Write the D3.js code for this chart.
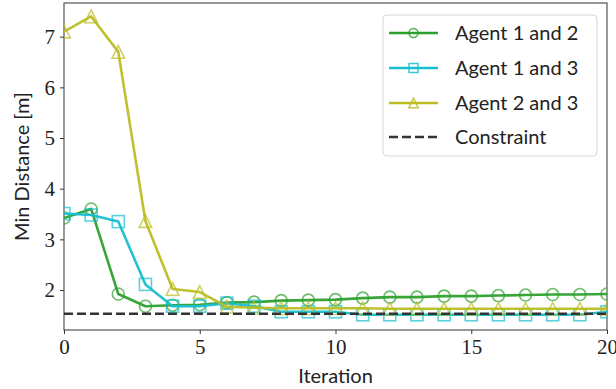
<!DOCTYPE html>
<html>
<head>
<meta charset="utf-8">
<script src="https://cdn.jsdelivr.net/npm/d3@7"></script>
<style>
  html, body { margin: 0; padding: 0; background: #fff; }
  svg { display: block; }
</style>
</head>
<body>
<svg id="chart" width="616" height="389"></svg>
<script>
// Minimum pairwise distance between agents per iteration
const iterations = d3.range(0, 21);
const agent12 = [3.42, 3.60, 1.92, 1.68, 1.70, 1.71, 1.75, 1.76, 1.79, 1.80, 1.81,
                 1.84, 1.86, 1.86, 1.88, 1.88, 1.89, 1.90, 1.91, 1.91, 1.92];
const agent13 = [3.51, 3.48, 3.35, 2.11, 1.68, 1.68, 1.74, 1.68, 1.57, 1.57, 1.57,
                 1.51, 1.51, 1.51, 1.51, 1.51, 1.51, 1.51, 1.51, 1.51, 1.57];
const agent23 = [7.10, 7.40, 6.70, 3.36, 2.02, 1.96, 1.67, 1.65, 1.64, 1.64, 1.64,
                 1.64, 1.63, 1.63, 1.63, 1.63, 1.63, 1.63, 1.63, 1.63, 1.63];
const constraint = 1.53;
const xTicks = [0, 5, 10, 15, 20];
const yTicks = [2, 3, 4, 5, 6, 7];

const seriesList = [
  { name: "Agent 1 and 2", values: agent12, color: "#2ca02c", marker: "circle" },
  { name: "Agent 1 and 3", values: agent13, color: "#17becf", marker: "square" },
  { name: "Agent 2 and 3", values: agent23, color: "#bcbd22", marker: "triangle" }
];

const svg = d3.select("#chart");
const plotLeft = 64, plotRight = 607, plotTop = 3, plotBottom = 330;

const x = d3.scaleLinear().domain([0, 20]).range([plotLeft, plotRight]);
const y = d3.scaleLinear().domain([1.2104, 7.665]).range([plotBottom, plotTop]);

const serif = "'Liberation Serif', 'DejaVu Serif', serif";
const sans = "Lato, 'Open Sans', 'DejaVu Sans', sans-serif";

svg.append("defs").append("clipPath").attr("id", "plot-clip")
  .append("rect").attr("x", plotLeft).attr("y", plotTop)
  .attr("width", plotRight - plotLeft).attr("height", plotBottom - plotTop);

// Axes
const xAxis = svg.append("g").attr("transform", `translate(0,${plotBottom})`)
  .call(d3.axisBottom(x).tickValues(xTicks).tickSize(4).tickPadding(5).tickFormat(d3.format("d")));
const yAxis = svg.append("g").attr("transform", `translate(${plotLeft},0)`)
  .call(d3.axisLeft(y).tickValues(yTicks).tickSize(4).tickPadding(5).tickFormat(d3.format("d")));

[xAxis, yAxis].forEach(g => {
  g.select(".domain").remove();
  g.selectAll(".tick line").attr("stroke", "#333").attr("stroke-width", 1);
  g.selectAll(".tick text").attr("font-family", serif).attr("font-size", 21).attr("fill", "#222");
});

// Frame
svg.append("rect").attr("x", plotLeft).attr("y", plotTop)
  .attr("width", plotRight - plotLeft).attr("height", plotBottom - plotTop)
  .attr("fill", "none").attr("stroke", "#444").attr("stroke-width", 1.1);

// Axis labels
svg.append("text").attr("x", (plotLeft + plotRight) / 2).attr("y", 383)
  .attr("text-anchor", "middle").attr("font-family", sans).attr("font-size", 20)
  .attr("fill", "#222").text("Iteration");
svg.append("text").attr("transform", `translate(29,${(plotTop + plotBottom) / 2}) rotate(-90)`)
  .attr("text-anchor", "middle").attr("font-family", sans).attr("font-size", 20)
  .attr("fill", "#222").text("Min Distance [m]");

const plot = svg.append("g").attr("clip-path", "url(#plot-clip)");

function drawMarker(g, type, cx, cy, size, color, width, opacity) {
  if (type === "circle") {
    g.append("circle").attr("cx", cx).attr("cy", cy).attr("r", size)
      .attr("fill", "none").attr("stroke", color).attr("stroke-width", width)
      .attr("stroke-opacity", opacity);
  } else if (type === "square") {
    g.append("rect").attr("x", cx - size).attr("y", cy - size)
      .attr("width", 2 * size).attr("height", 2 * size)
      .attr("fill", "none").attr("stroke", color).attr("stroke-width", width)
      .attr("stroke-opacity", opacity);
  } else {
    const s = size * 1.05;
    g.append("path")
      .attr("d", `M${cx},${cy - s}L${cx - s},${cy + s}L${cx + s},${cy + s}Z`)
      .attr("fill", "none").attr("stroke", color).attr("stroke-width", width)
      .attr("stroke-opacity", opacity);
  }
}

const line = d3.line().x((d, i) => x(iterations[i])).y(d => y(d));

seriesList.forEach(s => {
  const g = plot.append("g");
  g.append("path").datum(s.values).attr("d", line)
    .attr("fill", "none").attr("stroke", s.color).attr("stroke-width", 2.6)
    .attr("stroke-opacity", 0.95).attr("stroke-linejoin", "round");
  s.values.forEach((v, i) => drawMarker(g, s.marker, x(iterations[i]), y(v), 6, s.color, 1.6, 0.7));
});

// Constraint threshold
plot.append("line").attr("x1", plotLeft).attr("x2", plotRight)
  .attr("y1", y(constraint)).attr("y2", y(constraint))
  .attr("stroke", "#333").attr("stroke-width", 2.5).attr("stroke-dasharray", "9,4");

// Legend
const legend = svg.append("g");
legend.append("rect").attr("x", 383).attr("y", 15).attr("width", 214).attr("height", 141)
  .attr("rx", 4).attr("fill", "#fff").attr("fill-opacity", 0.85)
  .attr("stroke", "#d6d6d6").attr("stroke-width", 1);

const legendRows = seriesList.map(s => ({ name: s.name, color: s.color, marker: s.marker, dashed: false }))
  .concat([{ name: "Constraint", color: "#333", marker: null, dashed: true }]);
const rowY = [33, 68, 103, 137];

legendRows.forEach((r, i) => {
  const cy = rowY[i];
  const g = legend.append("g");
  g.append("line").attr("x1", 389).attr("x2", 438).attr("y1", cy).attr("y2", cy)
    .attr("stroke", r.color).attr("stroke-width", r.dashed ? 2.5 : 2.6)
    .attr("stroke-dasharray", r.dashed ? "9,4" : null);
  if (r.marker) drawMarker(g, r.marker, 413.5, cy, 4.5, r.color, 1.5, 0.85);
  g.append("text").attr("x", 455).attr("y", cy).attr("dy", "0.35em")
    .attr("font-family", sans).attr("font-size", 20).attr("fill", "#222").text(r.name);
});
</script>
</body>
</html>
